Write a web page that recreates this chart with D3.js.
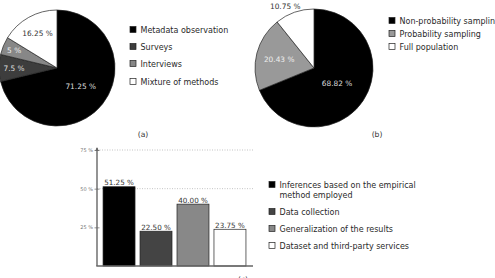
<!DOCTYPE html>
<html>
<head>
<meta charset="utf-8">
<script src="https://cdn.jsdelivr.net/npm/d3@7"></script>
<style>
  html, body { margin: 0; padding: 0; background: #fff; }
  svg { display: block; }
</style>
</head>
<body>
<div id="chart"></div>
<script>
// ── Data ────────────────────────────────────────────
const methodCats   = ['Metadata observation', 'Surveys', 'Interviews', 'Mixture of methods'];
const methodValues = [71.25, 7.5, 5, 16.25];
const methodLabels = ['71.25 %', '7.5 %', '5 %', '16.25 %'];

const samplingCats   = ['Non-probability sampling', 'Probability sampling', 'Full population'];
const samplingValues = [68.82, 20.43, 10.75];
const samplingLabels = ['68.82 %', '20.43 %', '10.75 %'];

const threatCats   = ['Inferences based on the empirical method employed', 'Data collection',
                      'Generalization of the results', 'Dataset and third-party services'];
const threatValues = [51.25, 22.50, 40.00, 23.75];
const threatLabels = ['51.25 %', '22.50 %', '40.00 %', '23.75 %'];

const yTicks      = [25, 50, 75];
const yTickLabels = ['25 %', '50 %', '75 %'];

// ── Setup ───────────────────────────────────────────
const W = 495, H = 278;
const FONT = "'DejaVu Sans', Verdana, sans-serif";
const svg = d3.select('#chart').append('svg').attr('width', W).attr('height', H);

function legend(g, names, colors, x, ys, lines) {
  names.forEach((n, i) => {
    const row = g.append('g').attr('transform', `translate(${x},${ys[i]})`);
    row.append('rect').attr('x', 0).attr('y', -3.5).attr('width', 6).attr('height', 6)
      .attr('fill', colors[i]).attr('stroke', '#222').attr('stroke-width', 0.7);
    const t = row.append('text').attr('x', 10.5).attr('y', 2.8)
      .attr('font-family', FONT).attr('font-size', 8).attr('fill', '#2a2a2a');
    const parts = (lines && lines[i]) || [n];
    parts.forEach((p, j) => t.append('tspan').attr('x', 10.5).attr('dy', j ? 10 : 0).text(p));
  });
}

function pie(cx, cy, r, values, labels, colors, textColors, labelR) {
  const g = svg.append('g').attr('transform', `translate(${cx},${cy})`);
  const arcs = d3.pie().sort(null).value(d => d)(values);
  const arc = d3.arc().innerRadius(0).outerRadius(r);
  g.selectAll('path').data(arcs).enter().append('path')
    .attr('d', arc)
    .attr('fill', (d, i) => colors[i])
    .attr('stroke', '#222').attr('stroke-width', 0.7);
  g.selectAll('text').data(arcs).enter().append('text')
    .attr('transform', (d, i) => {
      const c = d3.arc().innerRadius(r * labelR[i]).outerRadius(r * labelR[i]).centroid(d);
      // labels pushed outside the pie hang to the left of their anchor
      return labelR[i] > 1 ? `translate(${c[0] + 8},${c[1]})` : `translate(${c[0]},${c[1]})`;
    })
    .attr('text-anchor', (d, i) => labelR[i] > 1 ? 'end' : 'middle').attr('dy', '0.35em')
    .attr('font-family', FONT).attr('font-size', 7.4)
    .attr('fill', (d, i) => textColors[i])
    .text((d, i) => labels[i]);
}

// ── (a) Pie ─────────────────────────────────────────
const colA = ['#000', '#3d3d3d', '#878787', '#fff'];
pie(57, 68, 58, methodValues, methodLabels, colA, ['#ddd', '#ddd', '#eee', '#333'], [0.52, 0.74, 0.8, 0.69]);
legend(svg.append('g'), methodCats, colA, 130, [30, 47, 64, 82]);
svg.append('text').attr('x', 143).attr('y', 137).attr('text-anchor', 'middle')
  .attr('font-family', FONT).attr('font-size', 7.6).attr('fill', '#333').text('(a)');

// ── (b) Pie ─────────────────────────────────────────
const colB = ['#000', '#999', '#fff'];
pie(314, 68, 59, samplingValues, samplingLabels, colB, ['#ddd', '#eee', '#333'], [0.47, 0.61, 1.1]);
legend(svg.append('g'), samplingCats, colB, 389, [21, 34, 47]);
svg.append('text').attr('x', 377).attr('y', 137).attr('text-anchor', 'middle')
  .attr('font-family', FONT).attr('font-size', 7.6).attr('fill', '#333').text('(b)');

// ── (c) Bars ────────────────────────────────────────
const colC = ['#000', '#444', '#888', '#fff'];
const x = d3.scaleBand().domain(threatCats).range([97.5, 251.5]).paddingInner(0.135).paddingOuter(0.15);
const y = d3.scaleLinear().domain([0, 75]).range([266, 150]);
const axX0 = 97, axX1 = 253;

const bg = svg.append('g');
// dotted grid
bg.selectAll('.grid').data([50, 75]).enter().append('line')
  .attr('x1', axX0).attr('x2', axX1)
  .attr('y1', d => y(d)).attr('y2', d => y(d))
  .attr('stroke', '#aaa').attr('stroke-width', 0.7).attr('stroke-dasharray', '1,1.5');

bg.selectAll('rect.bar').data(threatValues).enter().append('rect')
  .attr('class', 'bar')
  .attr('x', (d, i) => x(threatCats[i]))
  .attr('width', x.bandwidth())
  .attr('y', d => y(d))
  .attr('height', d => y(0) - y(d))
  .attr('fill', (d, i) => colC[i])
  .attr('stroke', '#222').attr('stroke-width', 0.7);

bg.selectAll('text.val').data(threatValues).enter().append('text')
  .attr('class', 'val')
  .attr('x', (d, i) => x(threatCats[i]) + x.bandwidth() / 2)
  .attr('y', d => y(d) - 1.5)
  .attr('text-anchor', 'middle')
  .attr('font-family', FONT).attr('font-size', 7.2).attr('fill', '#333')
  .text((d, i) => threatLabels[i]);

// y axis
const yAxis = bg.append('g').attr('transform', `translate(${axX0},0)`)
  .call(d3.axisLeft(y).tickValues(yTicks).tickSize(2.5).tickFormat((d, i) => yTickLabels[i]));
yAxis.select('.domain').remove();
yAxis.selectAll('.tick line').attr('x1', 2.5).attr('x2', -2.5).attr('stroke', '#666').attr('stroke-width', 0.7);
yAxis.selectAll('.tick text').attr('x', -4).attr('font-family', FONT).attr('font-size', 5)
  .attr('fill', '#777');
bg.append('line').attr('x1', axX0).attr('x2', axX0).attr('y1', y(0)).attr('y2', y(75) - 2)
  .attr('stroke', '#666').attr('stroke-width', 1.4);
bg.append('path').attr('d', `M${axX0 - 1.8},${y(75) + 1} L${axX0},${y(75) - 3} L${axX0 + 1.8},${y(75) + 1}Z`)
  .attr('fill', '#666');
// x axis
bg.append('line').attr('x1', axX0 - 0.7).attr('x2', axX1).attr('y1', y(0)).attr('y2', y(0))
  .attr('stroke', '#666').attr('stroke-width', 1.4);

legend(svg.append('g'), threatCats, colC, 269, [185, 212, 229, 246],
  [['Inferences based on the empirical', 'method employed']]);
svg.append('text').attr('x', 243).attr('y', 282).attr('text-anchor', 'middle')
  .attr('font-family', FONT).attr('font-size', 7.6).attr('fill', '#333').text('(c)');
</script>
</body>
</html>
